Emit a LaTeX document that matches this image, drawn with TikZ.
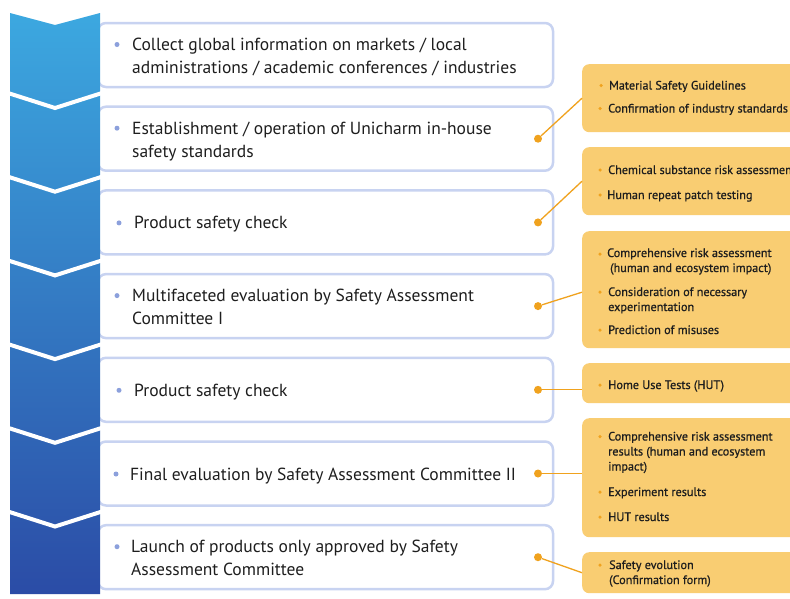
\documentclass[tikz,border=0pt]{standalone}
\usepackage{fontspec}
\setmainfont{PT Sans}
\newfontfamily\yfont{PT Sans}[FakeBold=0.7]
\definecolor{boxline}{HTML}{C8D3F1}
\definecolor{yfill}{HTML}{F9CD72}
\definecolor{ydotc}{HTML}{F0A21E}
\definecolor{bdotc}{HTML}{8CA0DC}
\definecolor{chtop}{HTML}{3CA8E0}
\definecolor{chmid}{HTML}{2F7EC8}
\definecolor{chbot}{HTML}{2B4CA6}
\definecolor{txt}{HTML}{1E1E1E}
\tikzset{
 mainbox/.style={draw=boxline, line width=2.5pt, fill=white, rounded corners=8pt, minimum width=455pt, minimum height=64pt, inner sep=0pt},
 ybox/.style={fill=yfill, rounded corners=7pt, inner sep=0pt, anchor=north west, minimum width=240pt},
 mtext/.style={anchor=base west, align=left, font=\fontsize{17.5}{23}\selectfont, text=txt, inner sep=0pt},
 ytext/.style={anchor=base west, align=left, font=\yfont\fontsize{12.2}{15}\selectfont, text=txt, inner sep=0pt},
 bdot/.style={circle, fill=bdotc, inner sep=0pt, minimum size=5pt},
 ydot/.style={circle, fill=ydotc, inner sep=0pt, minimum size=3.5pt},
 cdot/.style={circle, fill=ydotc, inner sep=0pt, minimum size=8pt},
 conn/.style={draw=ydotc, line width=1.3pt}
}
\begin{document}
\begin{tikzpicture}[x=1pt,y=-1pt]
\useasboundingbox (0,0) rectangle (790,598);
\clip (0,0) rectangle (790,598);
\fill[white] (0,0) rectangle (790,598);
% main boxes
\foreach \i in {1,...,7}{
  \node[mainbox] (b\i) at (325.5,{55+(\i-1)*83.7}) {};
}
% chevron column
\shade[top color=chtop, middle color=chmid, bottom color=chbot]
  (10,13) -- (55,25) -- (100,13) -- (100,594) -- (10,594) -- cycle;
\foreach \k in {1,...,6}{
  \draw[white, line width=4pt] (8,{93+(\k-1)*83.7}) -- (55,{108+(\k-1)*83.7}) -- (102,{93+(\k-1)*83.7});
}
% main texts (base = last line)
\node[bdot] (d1) at (117,44.5) {};
\node[mtext] (t1) at (132,73.5) {Collect global information on markets / local\\administrations / academic conferences / industries};
\node[bdot] (d2) at (117,128.2) {};
\node[mtext] (t2) at (132,157.2) {Establishment / operation of Unicharm in-house\\safety standards};
\node[bdot] (d3) at (119,222.9) {};
\node[mtext] (t3) at (134,228.9) {Product safety check};
\node[bdot] (d4) at (117,295.6) {};
\node[mtext] (t4) at (132,324.6) {Multifaceted evaluation by Safety Assessment\\Committee I};
\node[bdot] (d5) at (119,390.3) {};
\node[mtext] (t5) at (134,396.3) {Product safety check};
\node[bdot] (d6) at (116,474) {};
\node[mtext] (t6) at (130,480) {Final evaluation by Safety Assessment Committee II};
\node[bdot] (d7) at (117,546.7) {};
\node[mtext] (t7) at (131,575.7) {Launch of products only approved by Safety\\Assessment Committee};
% yellow boxes
\node[ybox, minimum height=68pt] (y1) at (582,64) {};
\node[ybox, minimum height=68pt] (y2) at (582,147) {};
\node[ybox, minimum height=117pt] (y3) at (582,231) {};
\node[ybox, minimum height=40pt] (y4) at (582,363) {};
\node[ybox, minimum height=119pt] (y5) at (582,418) {};
\node[ybox, minimum height=41pt] (y6) at (582,552) {};
% yellow texts (base = last line)
\node[ydot] (e11) at (601,85.5) {};
\node[ytext] (u11) at (609,89.5) {Material Safety Guidelines};
\node[ydot] (e12) at (600,108.5) {};
\node[ytext] (u12) at (608,112.5) {Confirmation of industry standards};
\node[ydot] (e21) at (600,170) {};
\node[ytext] (u21) at (608,174) {Chemical substance risk assessment};
\node[ydot] (e22) at (600,195) {};
\node[ytext] (u22) at (607,199) {Human repeat patch testing};
\node[ydot] (e31) at (600,254) {};
\node[ytext] (u31) at (607,272) {Comprehensive risk assessment\\\hspace*{3pt}(human and ecosystem impact)};
\node[ydot] (e32) at (600,292) {};
\node[ytext] (u32) at (608,311) {Consideration of necessary\\experimentation};
\node[ydot] (e33) at (600,330) {};
\node[ytext] (u33) at (608,334) {Prediction of misuses};
\node[ydot] (e41) at (600,385) {};
\node[ytext] (u41) at (608,389) {Home Use Tests (HUT)};
\node[ydot] (e51) at (600,436.5) {};
\node[ytext] (u51) at (608,470.5) {Comprehensive risk assessment\\results (human and ecosystem\\impact)};
\node[ydot] (e52) at (600,492) {};
\node[ytext] (u52) at (608,496) {Experiment results};
\node[ydot] (e53) at (600,517) {};
\node[ytext] (u53) at (608,521) {HUT results};
\node[ydot] (e61) at (600,565) {};
\node[ytext] (u61) at (609,584) {Safety evolution\\(Confirmation form)};
% connectors
\node[cdot] (c2) at (538,138.7) {};
\node[cdot] (c3) at (538,222.4) {};
\node[cdot] (c4) at (538,306.1) {};
\node[cdot] (c5) at (538,389.8) {};
\node[cdot] (c6) at (538,473.5) {};
\node[cdot] (c7) at (538,557.2) {};
\draw[conn] (c2) -- (y1.west);
\draw[conn] (c3) -- (y2.west);
\draw[conn] (c4) -- ([yshift=-2.5pt]y3.west);
\draw[conn] (c5) -- (c5 -| y4.west);
\draw[conn] (c6) -- (c6 -| y5.west);
\draw[conn] (c7) -- (y6.west);
\end{tikzpicture}
\end{document}
